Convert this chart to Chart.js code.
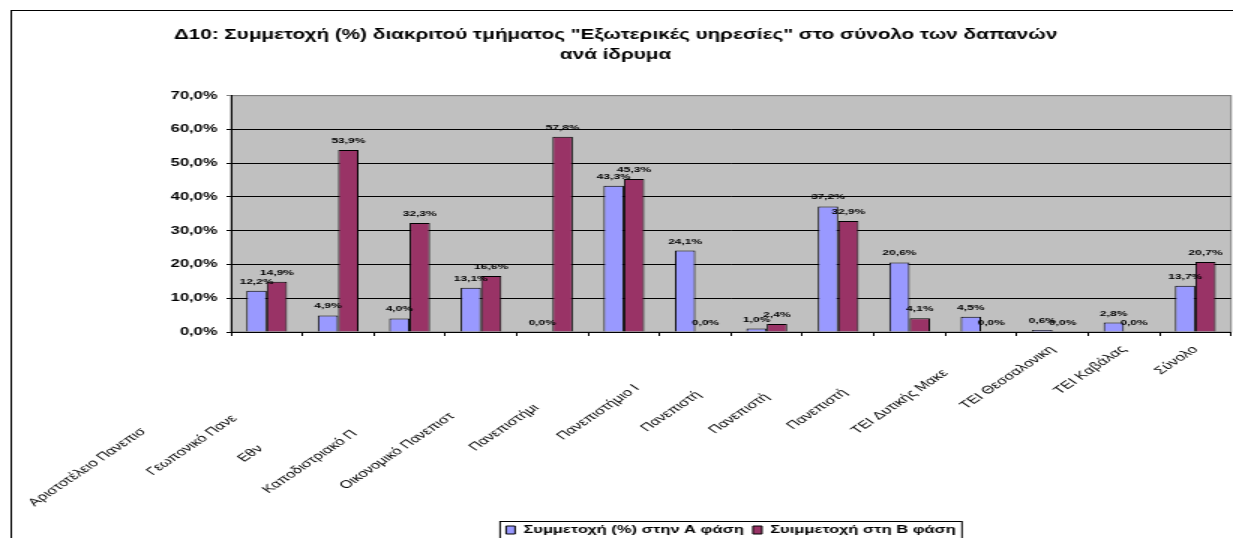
<!DOCTYPE html>
<html>
<head>
<meta charset="utf-8">
<script src="https://cdn.jsdelivr.net/npm/chart.js@4.4.1/dist/chart.umd.min.js"></script>
<style>
    html, body { margin: 0; padding: 0; background: #fff; }
</style>
</head>
<body>
<!-- the original picture is stretched sideways, so the canvas is drawn narrow and scaled up -->
<canvas id="chart" width="822" height="538" style="display:block;width:1233px;height:538px"></canvas>
<script>
// --- Data ---
const chartTitle = [
    'Δ10: Συμμετοχή (%) διακριτού τμήματος "Εξωτερικές υηρεσίες" στο σύνολο των δαπανών',
    'ανά ίδρυμα'
];
const categories = [
    'Αριστοτέλειο Πανεπισ', 'Γεωπονικό Πανε', 'Εθν', 'Καποδιστριακό Π',
    'Οικονομικό Πανεπιστ', 'Πανεπιστήμι', 'Πανεπιστήμιο Ι', 'Πανεπιστή',
    'Πανεπιστή', 'Πανεπιστή', 'ΤΕΙ Δυτικής Μακε', 'ΤΕΙ Θεσσαλονικη',
    'ΤΕΙ Καβάλας', 'Σύνολο'
];
const seriesNames = ['Συμμετοχή (%) στην Α φάση', 'Συιμμετοχή στη Β φάση'];
const phaseA = [12.2, 4.9, 4.0, 13.1, 0.0, 43.3, 24.1, 1.0, 37.2, 20.6, 4.5, 0.6, 2.8, 13.7];
const phaseB = [14.9, 53.9, 32.3, 16.6, 57.8, 45.3, 0.0, 2.4, 32.9, 4.1, 0.0, 0.0, 0.0, 20.7];
const yTicks = [0, 10, 20, 30, 40, 50, 60, 70];

// --- Style ---
const FONT = '"Liberation Sans", Arial, sans-serif';
const colorA = '#9999FF';
const colorB = '#993366';
// Excel clips the long labels; the visible piece sits further down its line (px along the text)
const labelShift = [116, 97, 140, 118, 96, 82, 56, 63, 66, 60, 34, 0, 0, 0];

const measureCtx = document.createElement('canvas').getContext('2d');
measureCtx.font = '11px ' + FONT;
const spaceWidth = measureCtx.measureText(' ').width || 3;

function pct(v) {
    return v.toFixed(1).replace('.', ',') + '%';
}

// grey plot area with its frame
const plotBackground = {
    id: 'plotBackground',
    beforeDraw(chart) {
        const { ctx, chartArea: a } = chart;
        ctx.save();
        ctx.fillStyle = '#C0C0C0';
        ctx.fillRect(a.left, a.top, a.right - a.left, a.bottom - a.top);
        ctx.strokeStyle = '#808080';
        ctx.lineWidth = 1;
        ctx.strokeRect(a.left, a.top, a.right - a.left, a.bottom - a.top);
        ctx.restore();
    }
};

// value labels above each bar
const barValues = {
    id: 'barValues',
    afterDatasetsDraw(chart) {
        const ctx = chart.ctx;
        ctx.save();
        ctx.font = 'bold 8px ' + FONT;
        ctx.fillStyle = '#000';
        ctx.textAlign = 'center';
        ctx.textBaseline = 'alphabetic';
        chart.data.datasets.forEach(function (ds, i) {
            chart.getDatasetMeta(i).data.forEach(function (bar, j) {
                ctx.fillText(pct(ds.data[j]), bar.x, bar.y - 7);
            });
        });
        ctx.restore();
    }
};

// outer chart frame and the box round the legend
const frames = {
    id: 'frames',
    afterDraw(chart) {
        const ctx = chart.ctx;
        ctx.save();
        ctx.strokeStyle = '#000';
        ctx.lineWidth = 1;
        ctx.strokeRect(7.5, 10.5, 900, 600);
        const boxes = chart.legend.legendHitBoxes;
        if (boxes && boxes.length) {
            const left = Math.min(...boxes.map(b => b.left)) - 4;
            const right = Math.max(...boxes.map(b => b.left + b.width)) + 4;
            const top = boxes[0].top - 3;
            ctx.strokeRect(left, top, right - left, 100);
        }
        ctx.restore();
    }
};

new Chart(document.getElementById('chart'), {
    type: 'bar',
    data: {
        labels: categories,
        datasets: [
            {
                label: seriesNames[0],
                data: phaseA,
                backgroundColor: colorA,
                borderColor: '#000',
                borderWidth: 1,
                categoryPercentage: 0.57,
                barPercentage: 1.0
            },
            {
                label: seriesNames[1],
                data: phaseB,
                backgroundColor: colorB,
                borderColor: '#000',
                borderWidth: 1,
                categoryPercentage: 0.57,
                barPercentage: 1.0
            }
        ]
    },
    options: {
        responsive: false,
        animation: false,
        devicePixelRatio: 1,
        layout: { padding: { left: 0, right: 1.3, top: 0, bottom: -7.5 } },
        scales: {
            x: {
                grid: { drawOnChartArea: false, drawTicks: true, tickLength: 4, color: '#000' },
                border: { display: true, color: '#000', width: 1 },
                ticks: {
                    autoSkip: false,
                    minRotation: 45,
                    maxRotation: 45,
                    padding: 7,
                    color: '#000',
                    font: { family: FONT, size: 11 },
                    callback: function (value, index) {
                        const n = Math.round(labelShift[index] / spaceWidth);
                        return categories[index] + ' '.repeat(n);
                    }
                },
                afterFit: function (scale) { scale.height = 186.5; }
            },
            y: {
                min: 0,
                max: 70,
                grid: {
                    color: ctx => (ctx.tick && ctx.tick.value === 70 ? '#808080' : '#000'),
                    tickLength: 3
                },
                border: { display: true, color: '#000', width: 1 },
                ticks: {
                    padding: 6,
                    color: '#000',
                    font: { family: FONT, size: 11, weight: 'bold' },
                    callback: v => pct(v)
                },
                afterBuildTicks: function (scale) {
                    scale.ticks = yTicks.map(v => ({ value: v }));
                },
                afterFit: function (scale) { scale.width = 154; }
            }
        },
        plugins: {
            title: {
                display: true,
                text: chartTitle,
                color: '#000',
                font: { family: FONT, size: 13.8, weight: 'bold', lineHeight: 1.4 },
                padding: { top: 26, bottom: 31 }
            },
            legend: {
                position: 'bottom',
                fullSize: false,
                labels: {
                    color: '#000',
                    boxWidth: 6,
                    boxHeight: 8,
                    padding: 6,
                    font: { family: FONT, size: 11, weight: 'bold' }
                }
            },
            tooltip: { enabled: false }
        }
    },
    plugins: [plotBackground, barValues, frames]
});
</script>
</body>
</html>
